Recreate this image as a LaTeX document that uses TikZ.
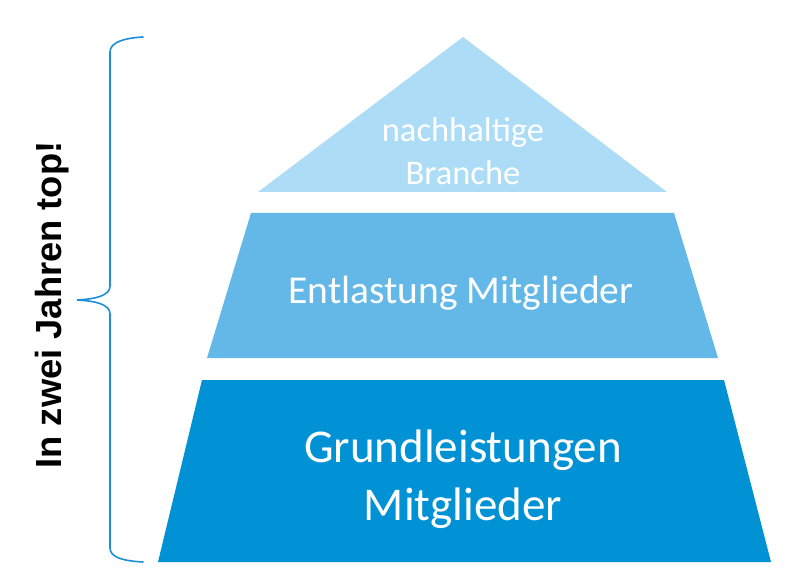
\documentclass[tikz,border=0pt]{standalone}
\usepackage{fontspec}
\setmainfont{Carlito}
\newfontfamily\arialbold{Liberation Sans}[BoldFont={* Bold}]
\definecolor{lvlA}{HTML}{ADDCF7}
\definecolor{lvlB}{HTML}{63B8E8}
\definecolor{lvlC}{HTML}{0092D4}
\definecolor{bracecol}{HTML}{1B8FD6}
\begin{document}
\begin{tikzpicture}[x=1pt,y=-1pt,
  level/.style={draw=none},
  lbl/.style={text=white, inner sep=0pt, align=center, anchor=base},
  bracestyle/.style={draw=bracecol, line width=1.6pt, line cap=round}]
\useasboundingbox (0,0) rectangle (800,585);
% pyramid levels
\fill[lvlA, level] (463,37) -- (667,192) -- (258,192) -- cycle;
\fill[lvlB, level] (251,213) -- (674,213) -- (718,358) -- (207,358) -- cycle;
\fill[lvlC, level] (202,380) -- (724,380) -- (771,562) -- (158,562) -- cycle;
% labels (anchor=base is the last line's baseline)
\node[lbl, font=\fontsize{34.5}{43}\selectfont] (top) at (463,185) {nachhaltige\\Branche};
\node[lbl, font=\fontsize{39.5}{47}\selectfont] (mid) at (461,303) {Entlastung Mitglieder};
\node[lbl, font=\fontsize{47}{58}\selectfont] (bot) at (463,520) {Grundleistungen\\Mitglieder};
% brace
\coordinate (bt) at (143,37);
\coordinate (bb) at (143,562);
\coordinate (tip) at (77,300);
\draw[bracestyle] (bt) .. controls (125,38) and (110,42) .. (110,52)
  -- (110,286) .. controls (110,296) and (95,299) .. (tip)
  .. controls (95,301) and (110,304) .. (110,314)
  -- (110,548) .. controls (110,558) and (125,561) .. (bb);
% side text
\node[rotate=90, anchor=base, inner sep=0pt, font=\arialbold\bfseries\fontsize{36.3}{40}\selectfont] (side) at (61,305) {In zwei Jahren top!};
\end{tikzpicture}
\end{document}
